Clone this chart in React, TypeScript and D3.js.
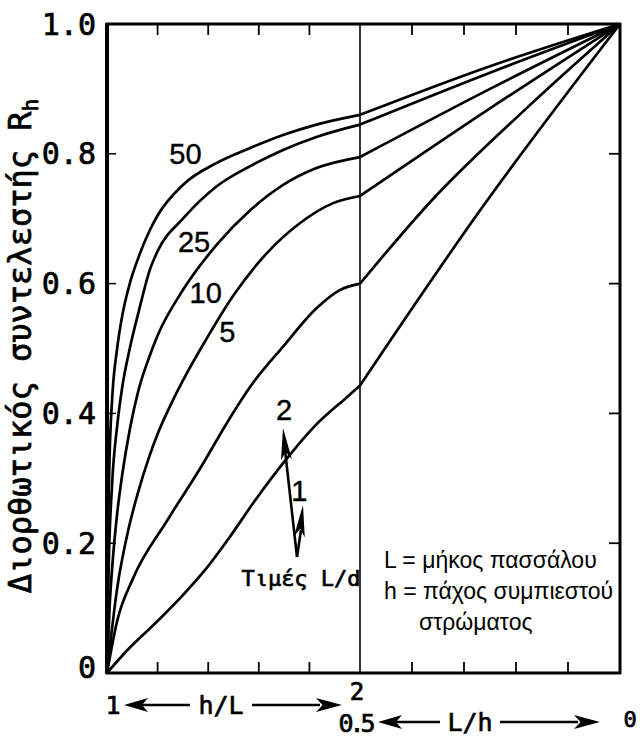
import React from "react";
import * as d3 from "d3";

// x position in "tick units": 0..5 => h/L from 1 to 2 ; 5..10 => L/h from 0.5 to 0
const curveNames = ["50", "25", "10", "5", "2", "1"];

const curve50L: [number, number][] = [[0,0],[0.02,0.2],[0.05,0.33],[0.1,0.42],[0.2,0.5],[0.3,0.55],[0.45,0.6],[0.62,0.64],[0.85,0.683],[1.0,0.705],[1.5,0.752],[2.17,0.786],[2.83,0.809],[3.48,0.829],[4.14,0.845],[5,0.86]];
const curve25L: [number, number][] = [[0,0],[0.03,0.15],[0.1,0.29],[0.2,0.38],[0.3,0.44],[0.45,0.5],[0.62,0.555],[0.85,0.622],[1.0,0.65],[1.5,0.7],[2.17,0.75],[2.83,0.781],[3.48,0.806],[4.14,0.826],[5,0.845]];
const curve10L: [number, number][] = [[0,0],[0.05,0.1],[0.1,0.16],[0.2,0.245],[0.3,0.305],[0.45,0.375],[0.62,0.435],[0.85,0.49],[1.0,0.52],[1.5,0.59],[2.17,0.66],[2.83,0.713],[3.48,0.752],[4.14,0.778],[5,0.795]];
const curve5L: [number, number][] = [[0,0],[0.2,0.13],[0.42,0.22],[0.62,0.28],[0.82,0.33],[1.01,0.37],[1.27,0.415],[1.6,0.465],[1.93,0.51],[2.5,0.582],[3.16,0.647],[3.81,0.693],[4.47,0.724],[5,0.735]];
const curve2L: [number, number][] = [[0,0],[0.2,0.08],[0.51,0.145],[1.19,0.235],[1.84,0.315],[2.43,0.393],[2.83,0.441],[3.48,0.503],[4.14,0.562],[4.6,0.59],[5,0.6]];
const curve1L: [number, number][] = [[0,0],[0.4,0.035],[1.0,0.08],[1.5,0.12],[1.93,0.158],[2.43,0.21],[2.9,0.263],[3.56,0.331],[4.1,0.38],[4.74,0.425],[5,0.443]];

const curve50R: [number, number][] = [[5,0.86],[7.5,0.935],[10,1]];
const curve25R: [number, number][] = [[5,0.845],[7.5,0.925],[10,1]];
const curve10R: [number, number][] = [[5,0.795],[7.5,0.9],[10,1]];
const curve5R: [number, number][] = [[5,0.735],[7.5,0.87],[10,1]];
const curve2R: [number, number][] = [[5,0.6],[6.4,0.73],[8.2,0.87],[10,1]];
const curve1R: [number, number][] = [[5,0.443],[7.31,0.713],[10,1]];

const leftParts = [curve50L, curve25L, curve10L, curve5L, curve2L, curve1L];
const rightParts = [curve50R, curve25R, curve10R, curve5R, curve2R, curve1R];

// curve label anchors in data space (u, R)
const labelAnchors: [number, number][] = [[1.55, 0.8], [1.72, 0.665], [1.95, 0.585], [2.38, 0.525], [3.5, 0.405], [3.8, 0.28]];

const yTicks = [0, 0.2, 0.4, 0.6, 0.8, 1.0];
const yTickLabels = ["0", "0.2", "0.4", "0.6", "0.8", "1.0"];
const xTickUnits = [1, 2, 3, 4, 6, 7, 8, 9];

const yTitle = "Διορθωτικός συντελεστής R";
const yTitleSub = "h";
const legendLines = ["L = μήκος πασσάλου", "h = πάχος συμπιεστού", "στρώματος"];
const arrowCaption = "Τιμές L/d";

const W = 640, H = 744;
const X0 = 107, XM = 360, X1 = 620, Y0 = 673, Y1 = 24;

export default function App() {
  const x = d3.scaleLinear().domain([0, 5, 10]).range([X0, XM, X1]);
  const y = d3.scaleLinear().domain([0, 1]).range([Y0, Y1]);
  const line = d3.line<[number, number]>().x(d => x(d[0])).y(d => y(d[1])).curve(d3.curveMonotoneX);
  const mono = "'DejaVu Sans Mono', monospace";
  const sans = "'Liberation Sans', Arial, sans-serif";
  const narrow = "'Liberation Sans Narrow', 'Liberation Sans', Arial, sans-serif";
  const heavy = { stroke: "#000", strokeWidth: 0.7 };

  const arrowHead = (tx: number, ty: number, fx: number, fy: number, len: number, wid: number) => {
    const dx = tx - fx, dy = ty - fy;
    const L = Math.hypot(dx, dy);
    const ux = dx / L, uy = dy / L;
    const bx = tx - ux * len, by = ty - uy * len;
    const px = -uy * wid / 2, py = ux * wid / 2;
    return `M${tx},${ty}L${bx + px},${by + py}L${bx + ux * len * 0.25},${by + uy * len * 0.25}L${bx - px},${by - py}Z`;
  };

  return (
    <svg width={W} height={H} style={{ position: "absolute", left: 0, top: 0, background: "#fff" }}>
      <rect x={0} y={0} width={W} height={H} fill="#fff" />
      {/* curves */}
      {leftParts.map((p, i) => (
        <path key={"l" + i} d={line(p) || ""} fill="none" stroke="#000" strokeWidth={2.7} />
      ))}
      {rightParts.map((p, i) => (
        <path key={"r" + i} d={line(p) || ""} fill="none" stroke="#000" strokeWidth={2.7} />
      ))}
      {/* frame */}
      <line x1={X0} x2={X0} y1={Y1 - 1} y2={Y0 + 1} stroke="#000" strokeWidth={4} />
      <line x1={X1} x2={X1} y1={Y1 - 1} y2={Y0 + 1} stroke="#000" strokeWidth={3} />
      <line x1={X0 - 1} x2={X1 + 1} y1={Y1} y2={Y1} stroke="#000" strokeWidth={3} />
      <line x1={X0 - 1} x2={X1 + 1} y1={Y0} y2={Y0} stroke="#000" strokeWidth={3} />
      <line x1={x(5)} x2={x(5)} y1={Y1} y2={Y0} stroke="#000" strokeWidth={1.6} />
      {/* ticks */}
      {yTicks.filter(t => t > 0 && t < 1).map(t => (
        <g key={"yt" + t}>
          <line x1={X0} x2={X0 + 9} y1={y(t)} y2={y(t)} stroke="#000" strokeWidth={1.5} />
          <line x1={X1} x2={X1 - 11} y1={y(t)} y2={y(t)} stroke="#000" strokeWidth={1.8} />
        </g>
      ))}
      {xTickUnits.map(u => (
        <g key={"xt" + u}>
          <line x1={x(u)} x2={x(u)} y1={Y1} y2={Y1 + 11} stroke="#000" strokeWidth={1.8} />
          <line x1={x(u)} x2={x(u)} y1={Y0} y2={Y0 - 11} stroke="#000" strokeWidth={1.8} />
        </g>
      ))}
      {/* y tick labels */}
      {yTicks.map((t, i) => (
        <text key={"yl" + t} x={96} y={y(t) + (t === 0 ? -6 : 0)} dy="0.35em" textAnchor="end" fontFamily={mono} fontSize={30} fill="#000" {...heavy}>{yTickLabels[i]}</text>
      ))}
      {/* y title */}
      <text transform={`translate(31,346) rotate(-90)`} textAnchor="middle" fontFamily={mono} fontSize={32} fill="#000" {...heavy}>
        {yTitle}<tspan fontSize={21} dy={7}>{yTitleSub}</tspan>
      </text>
      {/* curve labels */}
      {curveNames.map((n, i) => (
        <text key={"cl" + n} x={x(labelAnchors[i][0])} y={y(labelAnchors[i][1])} dy="0.35em" textAnchor="middle" fontFamily={narrow} fontSize={29} fill="#000" stroke="#000" strokeWidth={0.4}>{n}</text>
      ))}
      {/* L/d arrows */}
      <line x1={297} y1={557} x2={285} y2={450} stroke="#000" strokeWidth={2.6} />
      <path d={arrowHead(283, 428, 297, 557, 32, 11)} fill="#000" />
      <line x1={297} y1={557} x2={301} y2={530} stroke="#000" strokeWidth={2.6} />
      <path d={arrowHead(303, 505, 297, 557, 32, 11)} fill="#000" />
      <text x={301} y={578} dy="0.35em" textAnchor="middle" fontFamily={mono} fontSize={22} fill="#000" {...heavy}>{arrowCaption}</text>
      {/* legend */}
      {legendLines.map((t, i) => (
        <text key={"lg" + i} x={i === 2 ? 419 : 384} y={560 + i * 31} dy="0.35em" fontFamily={sans} fontSize={23} fill="#000">{t}</text>
      ))}
      {/* bottom axis captions */}
      <g fontFamily={mono} fill="#000" {...heavy}>
        <text x={113} y={705} dy="0.35em" textAnchor="middle" fontSize={25}>1</text>
        <text x={221} y={705} dy="0.35em" textAnchor="middle" fontSize={25}>h/L</text>
        <text x={357} y={692} dy="0.35em" textAnchor="middle" fontSize={24}>2</text>
        <text x={355} y={723} dy="0.35em" textAnchor="middle" fontSize={25} letterSpacing={-4}>0.5</text>
        <text x={470} y={722} dy="0.35em" textAnchor="middle" fontSize={25}>L/h</text>
        <text x={630} y={719} dy="0.35em" textAnchor="middle" fontSize={22}>0</text>
      </g>
      <line x1={190} x2={140} y1={705} y2={705} stroke="#000" strokeWidth={2.5} />
      <path d={arrowHead(124, 705, 190, 705, 24, 14)} fill="#000" />
      <line x1={252} x2={320} y1={705} y2={705} stroke="#000" strokeWidth={2.5} />
      <path d={arrowHead(342, 705, 252, 705, 26, 14)} fill="#000" />
      <line x1={440} x2={396} y1={722} y2={722} stroke="#000" strokeWidth={2.5} />
      <path d={arrowHead(378, 722, 440, 722, 24, 14)} fill="#000" />
      <line x1={500} x2={578} y1={722} y2={722} stroke="#000" strokeWidth={2.5} />
      <path d={arrowHead(600, 722, 500, 722, 26, 14)} fill="#000" />
    </svg>
  );
}
